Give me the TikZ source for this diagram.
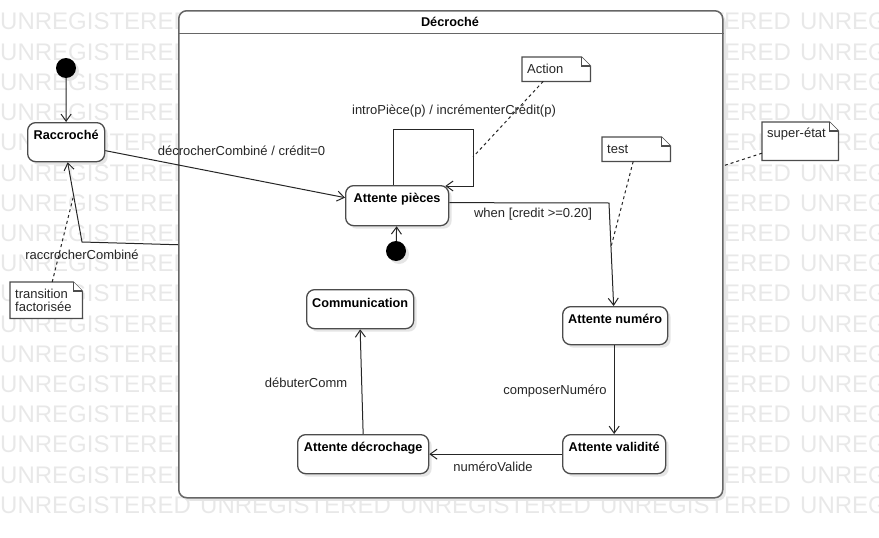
\documentclass[tikz,border=0pt]{standalone}
\usepackage{fontspec}
\setmainfont{Liberation Sans}
\usetikzlibrary{arrows.meta,shadows,calc}
\pgfdeclarelayer{bg}
\pgfsetlayers{bg,main}
\newcommand\mynotepath[1]{%
  \filldraw[notedraw] (#1.north west) -- ([xshift=-9pt]#1.north east) -- ([yshift=-9pt]#1.north east) -- (#1.south east) -- (#1.south west) -- cycle;
  \draw[notedraw] ([xshift=-9pt]#1.north east) |- ([yshift=-9pt]#1.north east);}
\begin{document}
\begin{tikzpicture}[x=1pt,y=-1pt,
  shad/.style={drop shadow={shadow xshift=3pt,shadow yshift=-3pt,fill=black!10,opacity=1}},
  stbox/.style={draw=black!70, line width=1.3pt, fill=white, rounded corners=8pt, inner sep=0pt,
    text height=17pt, text depth=22pt, anchor=north west, text=black,
    font=\fontsize{12.7}{15}\selectfont\bfseries, shad},
  initst/.style={circle, fill=black, minimum size=20pt, inner sep=0pt, shad},
  lbl/.style={font=\fontsize{13}{15}\selectfont, text=black!85, inner sep=0pt},
  notetxt/.style={font=\fontsize{13}{13}\selectfont, text=black!85, anchor=north west, inner xsep=5pt, inner ysep=0pt, align=left},
  notedraw/.style={draw=black!70, line width=1.2pt, fill=white},
  edge/.style={draw=black!85, line width=1pt, -{Straight Barb[length=7pt,width=10pt,line width=1pt]}},
  dsh/.style={draw=black!85, line width=1pt, dash pattern=on 3pt off 3pt},
  wm/.style={font=\fontsize{24}{24}\selectfont, text=black!9, inner sep=0pt, anchor=base west}
]
\useasboundingbox (0,0) rectangle (879,538);

% watermark
\begin{pgfonlayer}{bg}
\foreach \k in {0,...,16}{
  \foreach \j in {0,...,4}{
    \node[wm] (wm-\k-\j) at (200*\j, 30+30.2*\k) {UNREGISTERED};
  }
}
% super state frame
\node[draw=black!60, line width=1.5pt, fill=white, rounded corners=8pt, minimum width=544pt, minimum height=487pt, anchor=north west, inner sep=0pt, shad] (sup) at (178,10) {};
\draw[draw=black!60, line width=1.3pt] ([yshift=-23.5pt]sup.north west) -- ([yshift=-23.5pt]sup.north east);
\end{pgfonlayer}

\node[font=\fontsize{12.7}{15}\selectfont\bfseries] (title) at (450,22) {Décroché};

% states
\node[initst] (i1) at (66,68) {};
\node[stbox, minimum width=77pt] (racc) at (27,122) {Raccroché};
\node[stbox, minimum width=103pt, text depth=23pt] (pieces) at (345,185) {Attente pièces};
\node[initst] (i2) at (396,251) {};
\node[stbox, minimum width=105pt, text depth=21pt] (numero) at (562,306) {Attente numéro};
\node[stbox, minimum width=103pt] (valid) at (562,434) {Attente validité};
\node[stbox, minimum width=131pt] (decro) at (297,434) {Attente décrochage};
\node[stbox, minimum width=107pt, text height=18pt, text depth=21pt] (comm) at (306,289) {Communication};

% notes
\node[notetxt, minimum width=68pt, minimum height=24pt, text width=58pt] (action) at (522,57) {Action};
\node[notetxt, minimum width=68pt, minimum height=24pt, text width=58pt] (test) at (602,137) {test};
\node[notetxt, minimum width=76pt, text width=66pt, text height=15.5pt, text depth=22.5pt] (snote) at (762,122) {super-état};
\node[notetxt, minimum width=72pt, minimum height=36pt, text width=62pt] (fact) at (10,282) {transition\\factorisée};
\begin{pgfonlayer}{bg}
\mynotepath{action}
\mynotepath{test}
\mynotepath{snote}
\mynotepath{fact}
\end{pgfonlayer}

% coordinates
\coordinate (loopTR) at (473,129);
\coordinate (loopPt) at (473,157);
\coordinate (wc) at (609,203);
\coordinate (rc) at (82,242);
\coordinate (rcPt) at (73,198);
\coordinate (testPt) at (611,247);

% transitions
\draw[edge] (i1) -- (racc);
\draw[edge] ([yshift=-8.5pt]racc.east) -- ([yshift=8pt]pieces.west);
\draw[edge] ([xshift=-3.5pt]pieces.north) |- (loopTR) |- ([xshift=-4pt,yshift=-1pt]pieces.north east);
\draw[edge] (i2) -- (pieces);
\draw[edge] ([yshift=3pt]pieces.east) -- (wc) -- ([xshift=-1.5pt]numero.north);
\draw[edge] (valid.north |- numero.south) -- (valid.north);
\draw[edge] (valid.west) -- (decro.east);
\draw[edge] (decro.north) -- (comm.south);
\draw[edge] ([yshift=9.5pt]sup.west) -- (rc) -- ([xshift=1.5pt]racc.south);

% dashed anchors
\draw[dsh] ([xshift=-13pt]action.south) -- (loopPt);
\draw[dsh] ([xshift=-3pt]test.south) -- (testPt);
\draw[dsh] ([yshift=-12pt]snote.west) -- ([yshift=88.5pt]sup.east);
\draw[dsh] ([xshift=6pt]fact.north) -- (rcPt);

% labels
\node[lbl] (l1) at (241.5,151) {décrocherCombiné / crédit=0};
\node[lbl] (l2) at (454,111) {introPièce(p) / incrémenterCrédit(p)};
\node[lbl] (l3) at (533,214) {when [credit >=0.20]};
\node[lbl] (l4) at (82,255) {raccrocherCombiné};
\node[lbl] (l5) at (555,391) {composerNuméro};
\node[lbl] (l6) at (493,467) {numéroValide};
\node[lbl] (l7) at (306,383) {débuterComm};
\end{tikzpicture}
\end{document}
